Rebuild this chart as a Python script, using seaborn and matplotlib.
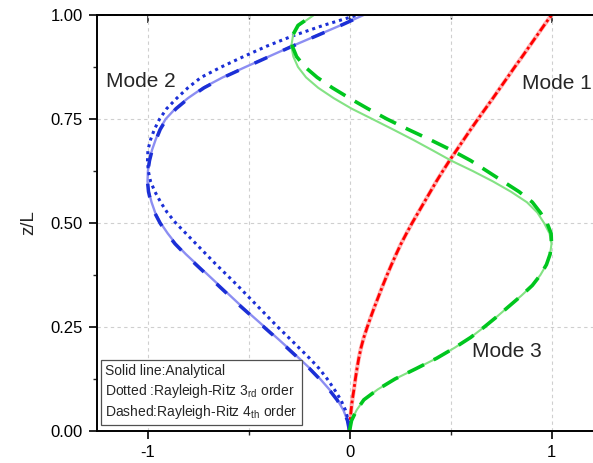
import matplotlib
matplotlib.use("Agg")
import matplotlib.pyplot as plt
from matplotlib.lines import Line2D
from matplotlib.ticker import FixedLocator, FormatStrFormatter
import seaborn as sns

# Normalised height along the member, z/L
z = [0.000, 0.025, 0.050, 0.075, 0.100, 0.125, 0.150, 0.175, 0.200, 0.225,
     0.250, 0.275, 0.300, 0.325, 0.350, 0.375, 0.400, 0.425, 0.450, 0.475,
     0.500, 0.525, 0.550, 0.575, 0.600, 0.625, 0.650, 0.675, 0.700, 0.725,
     0.750, 0.775, 0.800, 0.825, 0.850, 0.875, 0.900, 0.925, 0.950, 0.975, 1.000]

# Mode 1 (analytical and both Rayleigh-Ritz solutions coincide)
mode1 = [0.000, 0.003, 0.008, 0.014, 0.022, 0.029, 0.037, 0.046, 0.057, 0.071,
         0.088, 0.106, 0.125, 0.145, 0.165, 0.186, 0.208, 0.231, 0.255, 0.282,
         0.310, 0.340, 0.370, 0.400, 0.430, 0.462, 0.495, 0.530, 0.565, 0.600,
         0.636, 0.673, 0.710, 0.746, 0.782, 0.818, 0.855, 0.891, 0.927, 0.963, 1.000]

# Mode 2
mode2_analytical = [0.000, -0.010, -0.030, -0.060, -0.100, -0.145, -0.195, -0.250, -0.305, -0.362,
                    -0.420, -0.478, -0.535, -0.590, -0.645, -0.700, -0.755, -0.810, -0.860, -0.900,
                    -0.935, -0.962, -0.980, -0.993, -1.000, -0.998, -0.990, -0.978, -0.960, -0.940,
                    -0.910, -0.862, -0.800, -0.725, -0.628, -0.515, -0.400, -0.285, -0.165, -0.045, 0.070]
mode2_rr3 = [0.000, -0.006, -0.020, -0.043, -0.075, -0.110, -0.150, -0.198, -0.250, -0.302,
             -0.355, -0.405, -0.455, -0.505, -0.555, -0.607, -0.660, -0.710, -0.760, -0.810,
             -0.860, -0.902, -0.935, -0.963, -0.985, -0.996, -1.000, -0.998, -0.985, -0.966,
             -0.940, -0.905, -0.855, -0.800, -0.735, -0.635, -0.525, -0.410, -0.280, -0.130, 0.040]
mode2_rr4 = [0.000, -0.010, -0.030, -0.062, -0.102, -0.148, -0.198, -0.253, -0.309, -0.366,
             -0.424, -0.482, -0.540, -0.595, -0.650, -0.705, -0.760, -0.814, -0.864, -0.904,
             -0.938, -0.965, -0.983, -0.995, -1.000, -0.998, -0.990, -0.977, -0.958, -0.937,
             -0.906, -0.858, -0.796, -0.720, -0.624, -0.512, -0.398, -0.283, -0.163, -0.043, 0.070]

# Mode 3
mode3_analytical = [0.000, 0.010, 0.035, 0.071, 0.140, 0.225, 0.330, 0.432, 0.520, 0.600,
                    0.667, 0.730, 0.790, 0.850, 0.905, 0.945, 0.975, 0.993, 1.000, 0.990,
                    0.963, 0.930, 0.878, 0.800, 0.710, 0.610, 0.503, 0.410, 0.315, 0.215,
                    0.113, 0.010, -0.078, -0.155, -0.215, -0.255, -0.278, -0.288, -0.280, -0.250, -0.176]
mode3_rr4 = [0.000, 0.010, 0.035, 0.071, 0.140, 0.225, 0.330, 0.432, 0.520, 0.600,
             0.667, 0.730, 0.790, 0.850, 0.905, 0.945, 0.975, 0.993, 1.000, 0.998,
             0.978, 0.945, 0.905, 0.840, 0.760, 0.680, 0.600, 0.505, 0.400, 0.290,
             0.185, 0.090, 0.000, -0.085, -0.160, -0.220, -0.262, -0.283, -0.283, -0.255, -0.180]

x_major = [-1, 0, 1]
x_minor = [-0.5, 0.5]
y_major = [0.00, 0.25, 0.50, 0.75, 1.00]
y_minor = [0.125, 0.375, 0.625, 0.875]

legend_lines = ["Solid line:Analytical",
                r"Dotted :Rayleigh-Ritz 3$_{\mathrm{rd}}$ order",
                r"Dashed:Rayleigh-Ritz 4$_{\mathrm{th}}$ order"]

sns.set_theme(style="white")
plt.rcParams["font.family"] = ["Liberation Sans", "DejaVu Sans"]
plt.rcParams["mathtext.fontset"] = "custom"
plt.rcParams["mathtext.rm"] = "Liberation Sans"
plt.rcParams["mathtext.it"] = "Liberation Sans:italic"
plt.rcParams["axes.unicode_minus"] = False

fig = plt.figure(figsize=(5.93, 4.63), dpi=100)
ax = fig.add_axes([97 / 593, 32 / 463, 505 / 593, 416 / 463])


def trace(x, y, **kw):
    sns.lineplot(x=x, y=y, sort=False, estimator=None, ax=ax, **kw)


# Mode 1
trace(mode1, z, color="#ff6a6a", lw=3.0, alpha=0.5)
trace(mode1, z, color="#ff0000", lw=2.0, linestyle=(0, (3, 1.0, 1, 1.0)))

# Mode 2
trace(mode2_analytical, z, color="#8c8ef2", lw=1.7)
trace(mode2_rr4, z, color="#1b2fd6", lw=2.5, linestyle=(0, (4, 5)))
trace(mode2_rr3, z, color="#1b2fd6", lw=2.2, linestyle=(0, (1, 1.3)))

# Mode 3
trace(mode3_analytical, z, color="#84e284", lw=1.5)
trace(mode3_rr4, z, color="#00c61e", lw=2.6, linestyle=(0, (5, 3)))

ax.set_xlim(-1.25, 1.25)
ax.set_ylim(0, 1)

ax.xaxis.set_major_locator(FixedLocator(x_major))
ax.xaxis.set_minor_locator(FixedLocator(x_minor))
ax.yaxis.set_major_locator(FixedLocator(y_major))
ax.yaxis.set_minor_locator(FixedLocator(y_minor))
ax.yaxis.set_major_formatter(FormatStrFormatter("%.2f"))
ax.set_xticklabels([str(v) for v in x_major])

ax.tick_params(which="major", direction="out", length=6, width=1.2,
               labelsize=12, pad=4, colors="black", left=True, bottom=True)
ax.tick_params(which="minor", direction="out", length=3, width=1.0, left=True, bottom=True)

ax.grid(True, which="major", axis="y", color="#cfcfcf", lw=0.8, linestyle=(0, (3, 3)))
ax.grid(True, which="both", axis="x", color="#cfcfcf", lw=0.8, linestyle=(0, (3, 3)))
ax.set_axisbelow(True)

for side in ("left", "bottom", "top", "right"):
    ax.spines[side].set_visible(True)
    ax.spines[side].set_color("black")
    ax.spines[side].set_linewidth(1.4)

top = ax.secondary_xaxis("top")
top.xaxis.set_major_locator(FixedLocator(x_major))
top.xaxis.set_minor_locator(FixedLocator(x_minor))
top.tick_params(which="major", direction="in", length=6, width=1.2, labeltop=False)
top.tick_params(which="minor", direction="in", length=3, width=1.0)
top.spines["top"].set_linewidth(1.4)

ax.set_xlabel("")
ax.set_ylabel("z/L", fontsize=13.5, labelpad=10)

ax.text(-1.205, 0.826, "Mode 2", fontsize=15, ha="left", va="baseline")
ax.text(0.853, 0.822, "Mode 1", fontsize=15, ha="left", va="baseline")
ax.text(0.606, 0.179, "Mode 3", fontsize=15, ha="left", va="baseline")

handles = [Line2D([], [], linestyle="none") for _ in legend_lines]
leg = ax.legend(handles, legend_lines, loc="lower left", bbox_to_anchor=(0.008, 0.014),
                borderaxespad=0, handlelength=0, handletextpad=0, fontsize=10,
                labelspacing=0.25, borderpad=0.3, fancybox=False, framealpha=1,
                edgecolor="#505050")
leg.get_frame().set_linewidth(0.9)

fig.savefig("out.png", dpi=100)
